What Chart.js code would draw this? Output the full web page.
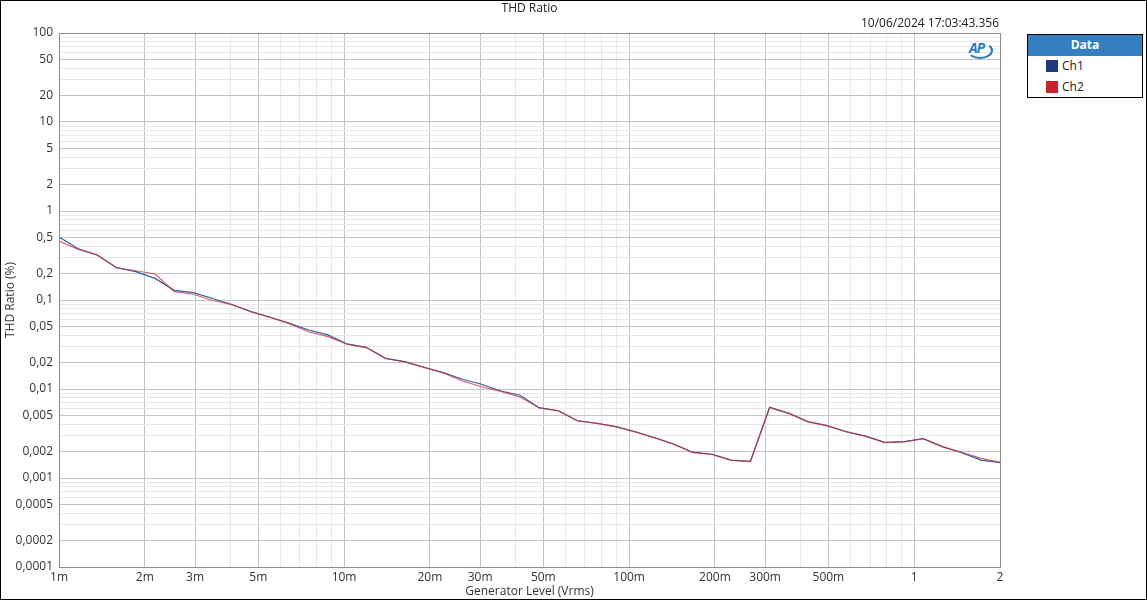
<!DOCTYPE html>
<html>
<head>
<meta charset="utf-8">
<script src="https://cdn.jsdelivr.net/npm/chart.js@4.4.1/dist/chart.umd.min.js"></script>
<style>
    body { margin: 0; background: #fff; font-family: "Open Sans", "Noto Sans", sans-serif; }
    #wrap { position: relative; width: 1147px; height: 600px; }
    #frame { position: absolute; left: 0; top: 0; width: 1145px; height: 598px; border: 1px solid #000; pointer-events: none; }
    .txt { position: absolute; font-size: 12px; color: #222; white-space: nowrap; }
    #legend { position: absolute; left: 1027px; top: 34px; width: 114px; height: 62px; border: 1px solid #000; background: #fff; }
    #legend .head { background: #337fbf; color: #fff; font-weight: bold; font-size: 12px; text-align: center; height: 21px; line-height: 20px; }
    #legend .row { position: relative; height: 21px; font-size: 12px; color: #222; }
    #legend .sw { position: absolute; left: 18px; top: 4px; width: 12px; height: 12px; }
    #legend .lb { position: absolute; left: 34px; top: 1px; }
    #aplogo { position: absolute; left: 967px; top: 40px; width: 24px; height: 18px; }
    #aplogo span { position: absolute; left: 2px; top: -2px; font: italic bold 14px "Open Sans", sans-serif; color: #2a7cc4; letter-spacing: -1px; }
    #aplogo i { position: absolute; left: 0; top: 2px; width: 22px; height: 13px; border: 2px solid #2a7cc4; border-left-color: transparent; border-top-color: transparent; border-radius: 50%; }
</style>
</head>
<body>
<div id="wrap">
    <canvas id="thdChart"></canvas>
    <div class="txt" style="left:0;width:1059px;text-align:center;top:-1px;">THD Ratio</div>
    <div class="txt" style="right:148px;top:14px;">10/06/2024 17:03:43.356</div>
    <div id="aplogo"><i></i><span>AP</span></div>
    <div id="legend">
        <div class="head">Data</div>
        <div class="row"><span class="sw" style="background:#1f3a7a"></span><span class="lb">Ch1</span></div>
        <div class="row"><span class="sw" style="background:#cc2229"></span><span class="lb">Ch2</span></div>
    </div>
    <div id="frame"></div>
</div>
<script>
/*
THD ratio vs generator level, 2 channels
 */
let generatorLevel = [
    0.001, 0.001168, 0.001364, 0.001593, 0.00186, 0.002172, 0.002537, 0.002962, 0.00346, 0.00404,
    0.004718, 0.00551, 0.006435, 0.007515, 0.008776, 0.01025, 0.01197, 0.01398, 0.01632, 0.01906,
    0.02226, 0.026, 0.03036, 0.03545, 0.0414, 0.04835, 0.05647, 0.06595, 0.077, 0.0899,
    0.105, 0.1226, 0.1432, 0.1673, 0.1953, 0.2281, 0.2664, 0.3111, 0.3633, 0.4243,
    0.4955, 0.5787, 0.6758, 0.7892, 0.9217, 1.0764, 1.257, 1.468, 1.7146, 2.0
];

let ch1 = [
    0.51, 0.376, 0.32, 0.231, 0.208, 0.175, 0.1285, 0.121, 0.104, 0.089,
    0.074, 0.064, 0.0547, 0.046, 0.0405, 0.0321, 0.0294, 0.0221, 0.0203, 0.01754,
    0.01525, 0.01286, 0.0113, 0.0095, 0.0085, 0.00617, 0.0057, 0.0044, 0.00412, 0.00377,
    0.00331, 0.00284, 0.00241, 0.00195, 0.00185, 0.00159, 0.00154, 0.00622, 0.00533, 0.0043,
    0.00387, 0.00331, 0.00296, 0.00252, 0.00256, 0.00277, 0.00225, 0.00192, 0.00159, 0.00149
];

let ch2 = [
    0.46, 0.37, 0.318, 0.229, 0.213, 0.196, 0.124, 0.116, 0.0987, 0.0885,
    0.0738, 0.0638, 0.0542, 0.044, 0.0387, 0.0318, 0.0292, 0.022, 0.0202, 0.0175,
    0.0152, 0.0123, 0.0106, 0.0094, 0.00813, 0.00612, 0.00568, 0.00438, 0.0041, 0.00376,
    0.0033, 0.00283, 0.0024, 0.00193, 0.00184, 0.00158, 0.00153, 0.0062, 0.00532, 0.00427,
    0.00385, 0.0033, 0.00294, 0.0025, 0.00255, 0.00276, 0.00224, 0.00194, 0.00166, 0.00151
];

let xTickLabels = ["1m", "2m", "3m", "5m", "10m", "20m", "30m", "50m", "100m", "200m", "300m", "500m", "1", "2"];
let yTickLabels = ["100", "50", "20", "10", "5", "2", "1", "0,5", "0,2", "0,1", "0,05", "0,02", "0,01",
    "0,005", "0,002", "0,001", "0,0005", "0,0002", "0,0001"];

function parseX(s) {
    return s.endsWith("m") ? parseFloat(s) / 1000 : parseFloat(s);
}
function parseY(s) {
    return parseFloat(s.replace(",", "."));
}
function findLabel(list, parse, v) {
    for (let s of list) {
        if (Math.abs(parse(s) / v - 1) < 1e-6) return s;
    }
    return null;
}
// one tick at every 1..9 multiple, so every grid line gets drawn
function decadeTicks(min, max) {
    let ticks = [];
    for (let e = Math.floor(Math.log10(min)); e <= Math.ceil(Math.log10(max)); e++) {
        for (let m = 1; m <= 9; m++) {
            let v = Number((m * Math.pow(10, e)).toPrecision(3));
            if (v >= min * 0.9999 && v <= max * 1.0001) ticks.push({value: v});
        }
    }
    return ticks;
}

let tickFont = {family: "'Open Sans', 'Noto Sans', sans-serif", size: 12};

let framePlugin = {
    id: "framePlugin",
    afterDraw(chart) {
        let a = chart.chartArea, c = chart.ctx;
        c.save();
        c.strokeStyle = "#8c8c8c";
        c.lineWidth = 1;
        c.strokeRect(Math.round(a.left) + 0.5, Math.round(a.top) + 0.5, Math.round(a.right - a.left), Math.round(a.bottom - a.top));
        c.restore();
    }
};

let ctx = document.getElementById("thdChart").getContext("2d");
window.thdChart = new Chart(ctx, {
    type: "line",
    data: {
        datasets: [
            {
                label: "Ch1",
                data: generatorLevel.map((x, i) => ({x: x, y: ch1[i]})),
                borderColor: "#2f5fa6",
                borderWidth: 1.2,
                pointRadius: 0,
                tension: 0,
                order: 1
            },
            {
                label: "Ch2",
                data: generatorLevel.map((x, i) => ({x: x, y: ch2[i]})),
                borderColor: "rgba(205, 45, 55, 0.75)",
                borderWidth: 1.2,
                pointRadius: 0,
                tension: 0,
                order: 0
            }
        ]
    },
    options: {
        responsive: true,
        maintainAspectRatio: false,
        animation: false,
        layout: {padding: {left: 0, right: 147, top: 33, bottom: 0}},
        plugins: {
            legend: {display: false},
            tooltip: {enabled: false}
        },
        scales: {
            x: {
                type: "logarithmic",
                min: 0.001,
                max: 2,
                afterBuildTicks: scale => { scale.ticks = decadeTicks(0.001, 2); },
                afterFit: scale => { scale.height = 33; },
                ticks: {
                    autoSkip: false,
                    maxRotation: 0,
                    padding: 3,
                    color: "#333",
                    font: tickFont,
                    callback: v => findLabel(xTickLabels, parseX, v) || ""
                },
                grid: {
                    drawTicks: false,
                    color: c => findLabel(xTickLabels, parseX, c.tick.value) ? "#c4c4c4" : "#e8e8e8"
                },
                border: {color: "#8c8c8c"},
                title: {
                    display: true,
                    text: "Generator Level (Vrms)",
                    color: "#333",
                    font: tickFont,
                    padding: {top: 0, bottom: 1}
                }
            },
            y: {
                type: "logarithmic",
                min: 0.0001,
                max: 100,
                afterBuildTicks: scale => { scale.ticks = decadeTicks(0.0001, 100); },
                afterFit: scale => { scale.width = 59; },
                ticks: {
                    autoSkip: false,
                    padding: 6,
                    color: "#333",
                    font: tickFont,
                    callback: v => findLabel(yTickLabels, parseY, v) || ""
                },
                grid: {
                    drawTicks: false,
                    color: c => findLabel(yTickLabels, parseY, c.tick.value) ? "#c4c4c4" : "#e8e8e8"
                },
                border: {color: "#8c8c8c"},
                title: {
                    display: true,
                    text: "THD Ratio (%)",
                    color: "#333",
                    font: tickFont,
                    padding: {top: 3, bottom: 0}
                }
            }
        }
    },
    plugins: [framePlugin]
});
</script>
</body>
</html>
